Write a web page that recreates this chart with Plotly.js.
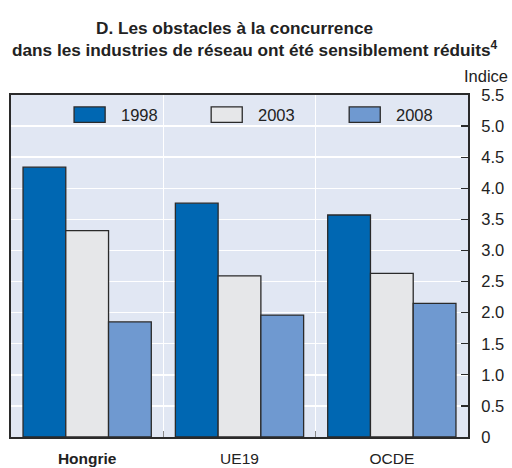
<!DOCTYPE html>
<html><head><meta charset="utf-8">
<script src="https://cdn.plot.ly/plotly-3.0.1.min.js"></script>
<style>html,body{margin:0;padding:0;background:#fff;}#chart{width:512px;height:468px;}</style>
</head><body><div id="chart"></div>
<script>
const categories = ["Hongrie", "UE19", "OCDE"];
const categoryLabels = ["<b>Hongrie</b>", "UE19", "OCDE"];
const seriesNames = ["1998", "2003", "2008"];
const values1998 = [4.34, 3.76, 3.57];
const values2003 = [3.32, 2.59, 2.63];
const values2008 = [1.85, 1.96, 2.15];
const yTickVals = [0, 0.5, 1, 1.5, 2, 2.5, 3, 3.5, 4, 4.5, 5, 5.5];
const yTickText = ["0", "0.5", "1.0", "1.5", "2.0", "2.5", "3.0", "3.5", "4.0", "4.5", "5.0", "5.5"];

const colors = ["#0067b2", "#e6e7e9", "#6f99d0"];
const FONT = "'Liberation Sans', Arial, sans-serif";
const seriesValues = [values1998, values2003, values2008];

const traces = seriesValues.map((v, i) => ({
  type: "bar", x: categories, y: v, name: seriesNames[i],
  marker: {color: colors[i], line: {color: "#2a2a2a", width: 1.3}},
  showlegend: false, hoverinfo: "skip"
}));

// custom legend (boxes + labels)
const legendX = [[0.138, 0.206], [0.438, 0.506], [0.740, 0.808]];
const shapes = legendX.map((lx, i) => ({
  type: "rect", xref: "paper", yref: "paper",
  x0: lx[0], x1: lx[1], y0: 0.920, y1: 0.965,
  fillcolor: colors[i], line: {color: "#2a2a2a", width: 1.3}
}));
const annotations = seriesNames.map((s, i) => ({
  text: s, xref: "paper", yref: "paper", x: legendX[i][1] + 0.030, y: 0.9425,
  xanchor: "left", yanchor: "middle", showarrow: false,
  font: {family: FONT, size: 16.5, color: "#222"}
}));
annotations.push({
  text: "D. Les obstacles à la concurrence", xref: "paper", yref: "paper",
  x: 0.49, y: 1.0, yshift: 67, showarrow: false, xanchor: "center", yanchor: "middle",
  font: {family: FONT, size: 17.2, color: "#222", weight: "bold"}
});
annotations.push({
  text: "dans les industries de réseau ont été sensiblement réduits<sup>4</sup>", xref: "paper", yref: "paper",
  x: 0.535, y: 1.0, yshift: 46, showarrow: false, xanchor: "center", yanchor: "middle",
  font: {family: FONT, size: 17.2, color: "#222", weight: "bold"}
});
annotations.push({
  text: "Indice", xref: "paper", yref: "paper", x: 1.0, xshift: 42, y: 1.0, yshift: 19,
  showarrow: false, xanchor: "right", yanchor: "middle",
  font: {family: FONT, size: 16.5, color: "#222"}
});

const layout = {
  width: 512, height: 468,
  margin: {l: 11, r: 44, t: 95, b: 31},
  paper_bgcolor: "#ffffff", plot_bgcolor: "#e1e7f3",
  barmode: "group", bargap: 0.158, bargroupgap: 0,
  showlegend: false,
  xaxis: {
    type: "category", tickvals: categories, ticktext: categoryLabels,
    tickson: "boundaries", showgrid: true, gridcolor: "#ffffff", gridwidth: 1.5,
    ticks: "inside", ticklen: 6, tickcolor: "#888", tickwidth: 1.5,
    showline: true, mirror: true, linecolor: "#2a2a2a", linewidth: 2,
    ticklabelstandoff: 6,
    tickfont: {family: FONT, size: 15.5, color: "#222"}, fixedrange: true
  },
  yaxis: {
    side: "right", range: [0, 5.5], tickvals: yTickVals, ticktext: yTickText,
    showgrid: true, gridcolor: "#ffffff", gridwidth: 1.5, zeroline: false,
    ticks: "inside", ticklen: 7, tickcolor: "#2a2a2a", tickwidth: 1.3,
    showline: true, mirror: true, linecolor: "#2a2a2a", linewidth: 2,
    ticklabelstandoff: 8,
    tickfont: {family: FONT, size: 16.5, color: "#222"}, fixedrange: true
  },
  shapes: shapes, annotations: annotations
};
Plotly.newPlot("chart", traces, layout, {displayModeBar: false, staticPlot: true});
</script></body></html>
